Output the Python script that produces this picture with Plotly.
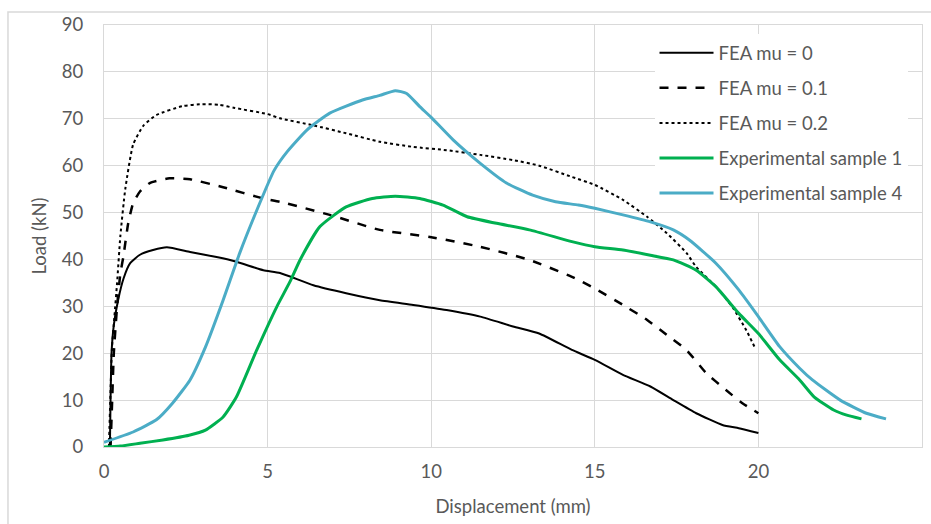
import plotly.graph_objects as go

# FEA mu = 0
mu0_x = [0.18, 0.2, 0.23, 0.3, 0.43, 0.6, 0.8, 1.1, 1.5, 1.92, 2.63, 3.44, 4.05, 4.87, 5.38, 6.4, 7.4, 8.43, 9.45,
         10.47, 11.5, 12.5, 13.3, 14.3, 15.0, 15.86, 16.7, 17.4, 18.1, 18.9, 19.4, 20.0]
mu0_y = [0, 10, 20, 26, 31.3, 36, 39.2, 41, 42, 42.6, 41.6, 40.5, 39.5, 37.7, 37.1, 34.5, 32.8, 31.3, 30.3,
         29.2, 27.8, 25.7, 24.2, 20.7, 18.6, 15.4, 12.9, 10, 7.2, 4.7, 4.0, 3.0]

# FEA mu = 0.1
mu1_x = [0.2, 0.25, 0.3, 0.4, 0.5, 0.59, 0.74, 0.89, 1.1, 1.4, 2.0, 2.63, 3.64, 4.87, 5.38, 6.9, 8.43, 9.96,
         11.5, 13.0, 14.3, 15.0, 15.86, 16.6, 17.2, 17.8, 18.4, 19.0, 19.5, 20.0]
mu1_y = [0, 10, 20, 30, 37, 40.5, 47.7, 52, 54.5, 56.3, 57.3, 57.1, 55.4, 53, 52.3, 49.5, 46.3, 44.8,
         42.7, 39.9, 36.3, 33.8, 30.3, 27.1, 23.9, 20.7, 15.8, 12.2, 9.4, 7.2]

# FEA mu = 0.2
mu2_x = [0.15, 0.2, 0.24, 0.32, 0.4, 0.5, 0.65, 0.89, 1.2, 1.6, 2.4, 3.0, 3.5, 4.0, 5.0, 5.38, 6.4, 7.4, 8.43,
         9.45, 10.47, 11.5, 12.5, 13.3, 14.3, 15.0, 15.86, 16.6, 17.2, 17.8, 18.1, 18.7, 19.2, 19.63, 19.9]
mu2_y = [0, 12, 20.7, 28, 35, 45, 55, 64.5, 68.5, 70.8, 72.7, 73.1, 73, 72.3, 71, 70.1, 68.6, 66.9, 65.1,
         64, 63.3, 62.3, 61.2, 60, 57.6, 55.9, 52.7, 49.1, 45.6, 41.4, 38.4, 34.2, 29.9, 24.9, 21.1]

# Experimental sample 1
exp1_x = [0, 0.5, 1.1, 1.8, 2.6, 3.1, 3.64, 4.05, 4.67, 5.28, 5.68, 6.0, 6.6, 7.4, 8.2, 8.9, 9.65, 10.36,
          11.1, 12.0, 13.0, 14.3, 15.0, 15.86, 16.7, 17.4, 18.1, 18.7, 19.4, 20.0, 20.65, 21.26, 21.7, 22.3,
          22.7, 23.15]
exp1_y = [0, 0.2, 0.8, 1.5, 2.5, 3.6, 6.4, 10.7, 20.7, 29.9, 35.2, 40, 47, 51.2, 53, 53.5, 53, 51.6,
          49.1, 47.7, 46.3, 43.8, 42.7, 42, 40.9, 39.9, 37.7, 34.2, 28.5, 24.2, 18.6, 14.3, 10.7, 7.9,
          6.8, 6.0]

# Experimental sample 4
exp4_x = [0, 0.89, 1.6, 2.1, 2.63, 3.1, 3.64, 4.15, 4.67, 5.2, 5.6, 6.2, 6.9, 7.9, 8.43, 8.9, 9.25, 9.65,
          10.0, 10.67, 11.5, 12.3, 13.1, 13.8, 14.5, 15.0, 15.86, 16.7, 17.4, 17.9, 18.7, 19.4, 20.0, 20.65,
          21.26, 21.65, 22.5, 23.3, 23.9]
exp4_y = [1, 3.2, 5.8, 9.4, 14.3, 21.3, 31.3, 41.4, 50.5, 59, 63, 67.6, 71.2, 74, 75, 76, 75.4, 72.6,
          70.3, 65.5, 60.5, 56.3, 53.7, 52.3, 51.6, 50.9, 49.5, 48, 46.3, 44.1, 39.2, 33.5, 27.8, 21.4,
          16.8, 14.3, 10, 7.2, 6.0]

FONT = "Lato"
FS = 18.5
TXT = "#595959"
GRID = "#d9d9d9"

fig = go.Figure()
series = [
    ("FEA mu = 0", mu0_x, mu0_y, dict(color="black", width=2, dash="solid")),
    ("FEA mu = 0.1", mu1_x, mu1_y, dict(color="black", width=2.5, dash="dash")),
    ("FEA mu = 0.2", mu2_x, mu2_y, dict(color="black", width=2, dash="dot")),
    ("Experimental sample 1", exp1_x, exp1_y, dict(color="#00b050", width=3, dash="solid")),
    ("Experimental sample 4", exp4_x, exp4_y, dict(color="#4bacc6", width=3, dash="solid")),
]
for i, (name, xs, ys, ln) in enumerate(series):
    fig.add_trace(go.Scatter(x=xs, y=ys, mode="lines", name=name, line=dict(shape="spline", smoothing=0.5, **ln),
                             legendgroup=f"g{i}"))

fig.update_layout(
    width=931, height=524,
    margin=dict(l=104, r=9, t=25, b=77, autoexpand=False),
    paper_bgcolor="white", plot_bgcolor="white",
    font=dict(family=FONT, size=FS, color=TXT),
    showlegend=True,
    legend=dict(x=0.673, y=0.978, xanchor="left", yanchor="top", bgcolor="white",
                font=dict(family=FONT, size=FS, color=TXT), tracegroupgap=8,
                traceorder="grouped", itemwidth=54),
    xaxis=dict(range=[0, 25], dtick=5, showgrid=True, gridcolor=GRID, gridwidth=1, zeroline=False,
               showline=True, linecolor=GRID, mirror=True, ticks="", ticklabelstandoff=8, automargin=False,
               tickfont=dict(family=FONT, size=FS, color=TXT),
               title=dict(text="Displacement (mm)", font=dict(family=FONT, size=FS, color=TXT), standoff=18)),
    yaxis=dict(range=[0, 90], dtick=10, showgrid=True, gridcolor=GRID, gridwidth=1, zeroline=False,
               showline=True, linecolor=GRID, mirror=True, ticks="", ticklabelstandoff=16, automargin=False,
               tickfont=dict(family=FONT, size=FS, color=TXT),
               title=dict(text="Load (kN)", font=dict(family=FONT, size=FS, color=TXT), standoff=10)),
)
fig.add_shape(type="rect", xref="paper", yref="paper", x0=-0.1174, x1=1.05, y0=-0.3, y1=1.0308,
              line=dict(color=GRID, width=1.5), layer="below")

fig.write_html("out.html")
